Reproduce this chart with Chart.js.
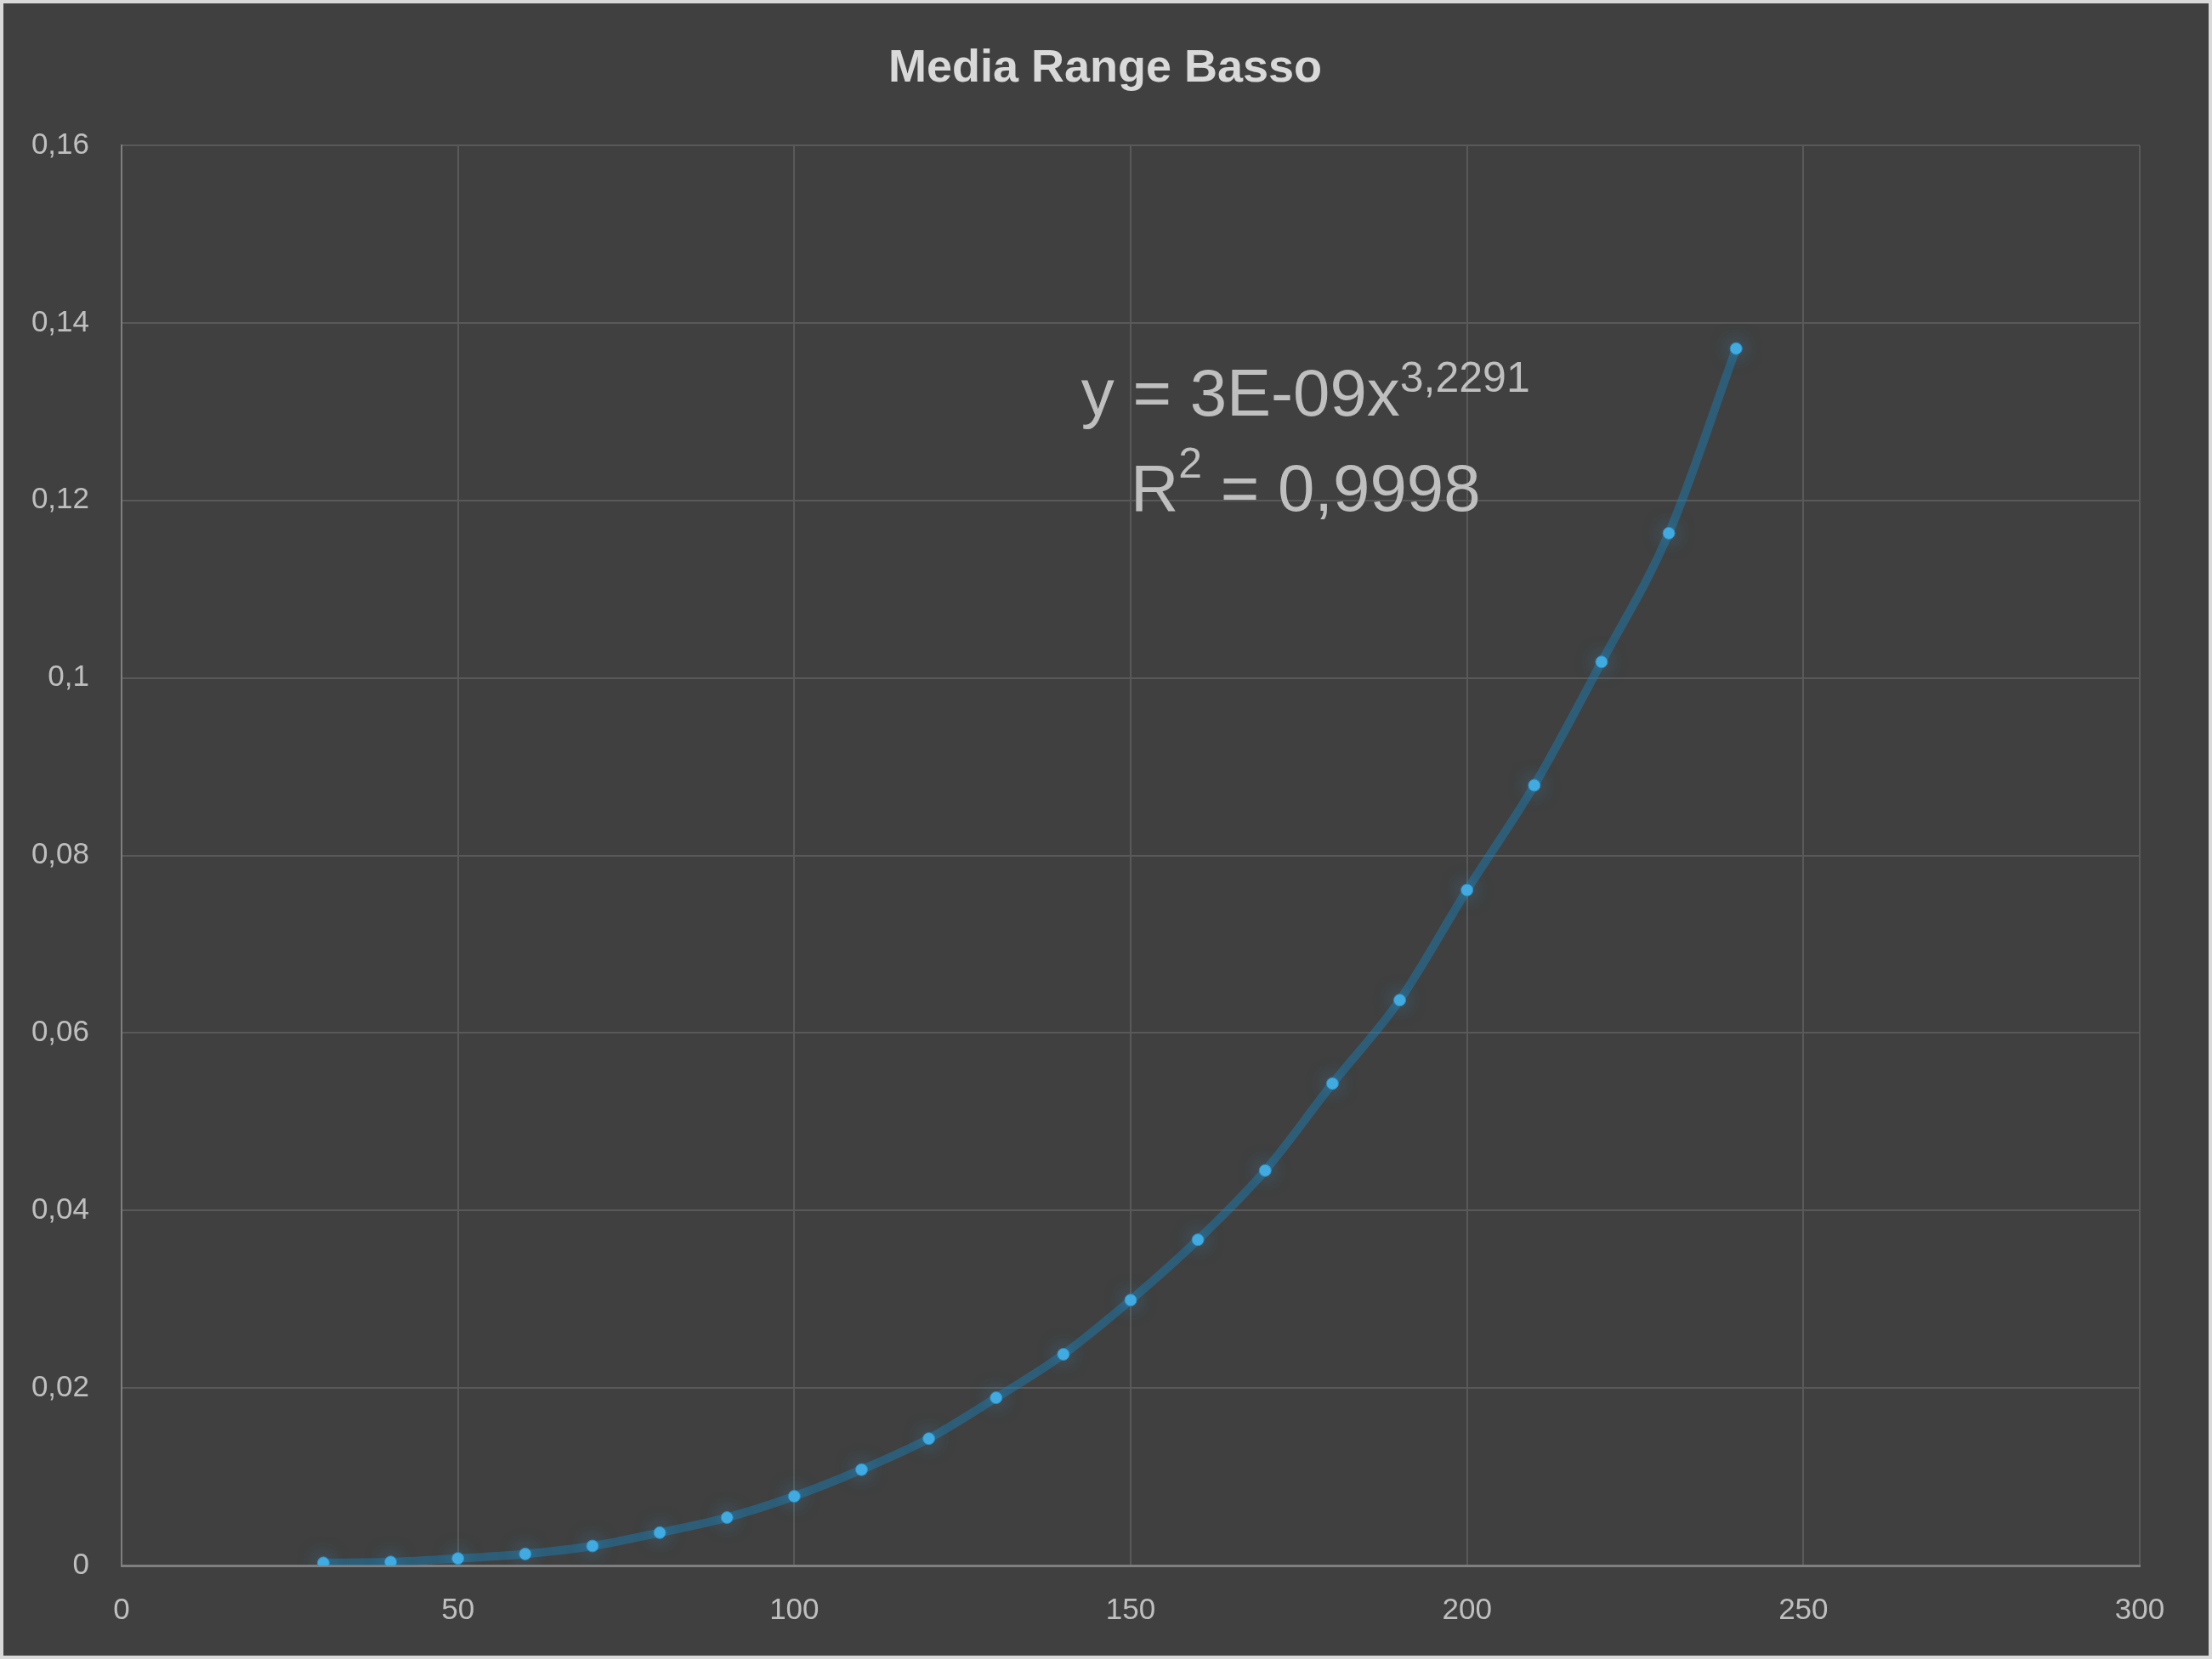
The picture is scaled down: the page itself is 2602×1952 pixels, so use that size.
<!DOCTYPE html>
<html>
<head>
<meta charset="utf-8">
<script src="https://cdn.jsdelivr.net/npm/chart.js@4/dist/chart.umd.min.js"></script>
<style>
  html, body { margin: 0; padding: 0; background: #404040; }
  #wrap { width: 2602px; height: 1952px; }
</style>
</head>
<body>
<div id="wrap"><canvas id="chart" width="2602" height="1952"></canvas></div>
<script>
// dati
const xValues = [30, 40, 50, 60, 70, 80, 90, 100, 110, 120, 130, 140, 150, 160, 170, 180, 190, 200, 210, 220, 230, 240];
const yValues = [0.0003, 0.0004, 0.0008, 0.0013, 0.0022, 0.0037, 0.0054, 0.0078, 0.0108, 0.0143, 0.0189, 0.0238,
                 0.0299, 0.0367, 0.0445, 0.0543, 0.0637, 0.0761, 0.0879, 0.1018, 0.1163, 0.1371];
const xTicks = [0, 50, 100, 150, 200, 250, 300];
const yTicks = [0, 0.02, 0.04, 0.06, 0.08, 0.1, 0.12, 0.14, 0.16];
const chartTitle = 'Media Range Basso';

const sans = '"Liberation Sans", Arial, sans-serif';

const points = xValues.map((x, i) => ({ x, y: yValues[i] }));

function fmt(v) {
  return String(Math.round(v * 1000) / 1000).replace('.', ',');
}

// sfondo, bordo, titolo, equazione
const decor = {
  id: 'decor',
  beforeDraw(chart) {
    const ctx = chart.ctx;
    ctx.save();
    ctx.fillStyle = '#404040';
    ctx.fillRect(0, 0, chart.width, chart.height);
    ctx.restore();
  },
  afterDraw(chart) {
    const ctx = chart.ctx;
    ctx.save();
    ctx.strokeStyle = '#d9d9d9';
    ctx.lineWidth = 4;
    ctx.strokeRect(2, 2, chart.width - 4, chart.height - 4);

    ctx.fillStyle = '#d9d9d9';
    ctx.font = 'bold 54px ' + sans;
    ctx.textAlign = 'center';
    ctx.textBaseline = 'alphabetic';
    ctx.fillText(chartTitle, 1300, 96);

    // equazione della linea di tendenza
    const cx = chart.scales.x.getPixelForValue(176);
    ctx.fillStyle = '#bfbfbf';
    ctx.textAlign = 'left';
    const big = '78px ' + sans, small = '50px ' + sans;
    ctx.font = big;
    const a = 'y = 3E-09x';
    const wa = ctx.measureText(a).width;
    ctx.font = small;
    const sa = '3,2291';
    const wsa = ctx.measureText(sa).width;
    let x0 = cx - (wa + wsa) / 2;
    ctx.font = big;
    ctx.fillText(a, x0, 489);
    ctx.font = small;
    ctx.fillText(sa, x0 + wa, 461);

    ctx.font = big;
    const r = 'R';
    const wr = ctx.measureText(r).width;
    const b = ' = 0,9998';
    const wb = ctx.measureText(b).width;
    ctx.font = small;
    const w2 = ctx.measureText('2').width;
    x0 = cx - (wr + w2 + wb) / 2;
    ctx.font = big;
    ctx.fillText(r, x0, 601);
    ctx.font = small;
    ctx.fillText('2', x0 + wr, 562);
    ctx.font = big;
    ctx.fillText(b, x0 + wr + w2, 601);
    ctx.restore();
  }
};

// alone attorno ai punti
const glow = {
  id: 'glow',
  beforeDatasetDraw(chart, args) {
    if (args.index !== 1) return;
    chart.ctx.save();
    chart.ctx.shadowColor = 'rgba(60,170,225,0.55)';
    chart.ctx.shadowBlur = 22;
  },
  afterDatasetDraw(chart, args) {
    if (args.index !== 1) return;
    chart.ctx.restore();
  }
};

new Chart(document.getElementById('chart'), {
  type: 'scatter',
  data: {
    datasets: [
      {
        data: points,
        showLine: true,
        cubicInterpolationMode: 'monotone',
        borderColor: 'rgba(24,128,186,0.45)',
        borderWidth: 10,
        pointRadius: 0,
        order: 2
      },
      {
        data: points,
        showLine: false,
        pointRadius: 7,
        pointBackgroundColor: '#42ade2',
        pointBorderColor: '#2a8cc0',
        pointBorderWidth: 1,
        order: 1
      }
    ]
  },
  options: {
    responsive: false,
    animation: false,
    events: [],
    layout: { padding: { top: 171, right: 85, left: 0, bottom: 0 } },
    plugins: {
      legend: { display: false },
      tooltip: { enabled: false }
    },
    scales: {
      x: {
        type: 'linear',
        min: 0, max: 300,
        afterBuildTicks: s => { s.ticks = xTicks.map(v => ({ value: v })); },
        afterFit: s => { s.height = 110; },
        grid: { color: '#595959', lineWidth: 2, drawTicks: false },
        border: { color: '#7f7f7f', width: 3 },
        ticks: { color: '#bfbfbf', font: { family: sans, size: 35 }, padding: 32 }
      },
      y: {
        min: 0, max: 0.16,
        afterBuildTicks: s => { s.ticks = yTicks.map(v => ({ value: v })); },
        afterFit: s => { s.width = 143; },
        grid: { color: '#595959', lineWidth: 2, drawTicks: false },
        border: { color: '#7f7f7f', width: 2 },
        ticks: { color: '#bfbfbf', font: { family: sans, size: 35 }, padding: 38, callback: v => fmt(v) }
      }
    }
  },
  plugins: [decor, glow]
});
</script>
</body>
</html>
